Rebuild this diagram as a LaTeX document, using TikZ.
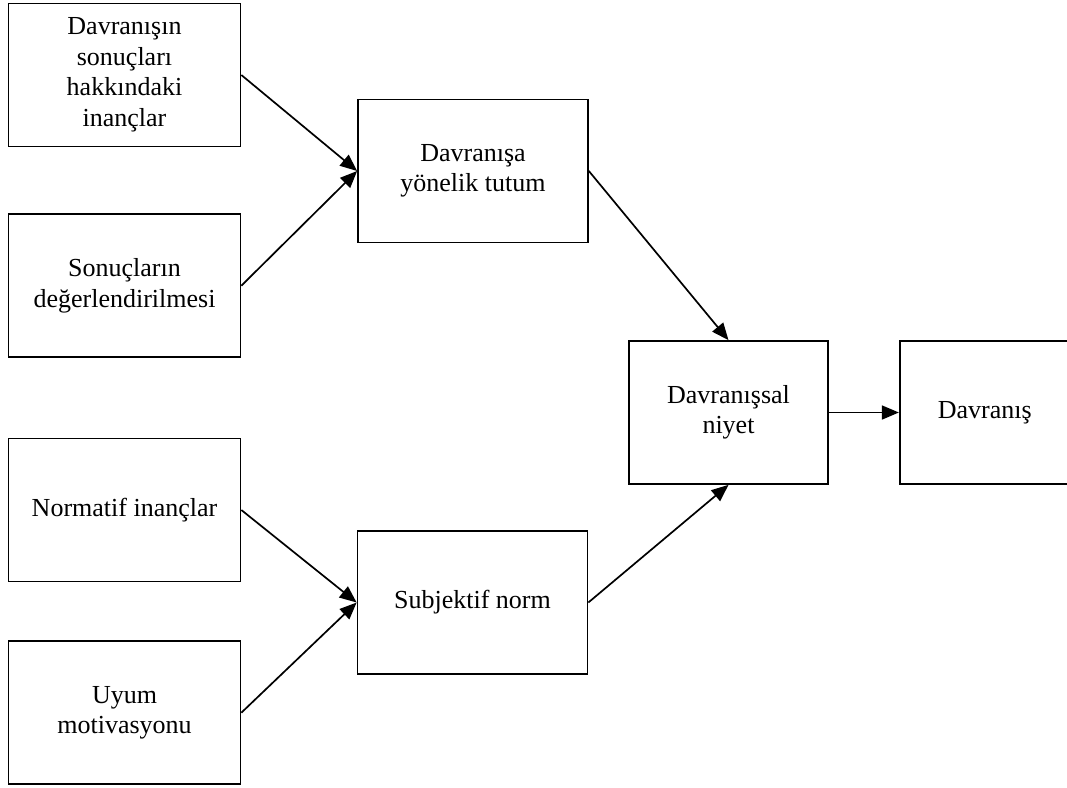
\documentclass[tikz,border=0pt]{standalone}
\usepackage{fontspec}
\setmainfont{Liberation Serif}
\usetikzlibrary{arrows.meta,positioning}

\begin{document}
\begin{tikzpicture}[
  x=1pt, y=-1pt,
  node distance=66pt and 117pt,
  box/.style={draw=black, line width=1.7pt, fill=white, align=center, minimum height=143pt, inner sep=2pt, font=\fontsize{26}{30.5}\selectfont},
  wide/.style={box, minimum width=232pt},
  arr/.style={-{Triangle[length=17pt,width=14pt]}, black, line width=1.7pt}
]
\useasboundingbox (0,0) rectangle (1067,787);

\node[wide] (inan) at (124.5,75) {Davranışın\\sonuçları\\hakkındaki\\inançlar};
\node[wide, below=66pt of inan] (deger) {Sonuçların\\değerlendirilmesi};
\node[wide] (norm) at (124.5,510) {Normatif inançlar};
\node[wide, below=58pt of norm] (uyum) {Uyum\\motivasyonu};

\node[box, minimum width=230pt] (tutum) at (473,171) {Davranışa\\yönelik tutum};
\node[box, minimum width=230pt] (subj) at (472.5,602.5) {Subjektif norm};

\node[box, minimum width=199pt] (niyet) at (728.5,412.5) {Davranışsal\\niyet};
\node[box, minimum width=170pt, right=70pt of niyet] (davr) {Davranış};

\draw[arr] (inan.east)--(tutum.west); \draw[arr] (deger.east)--(tutum.west);
\draw[arr] (norm.east)--(subj.west); \draw[arr] (uyum.east)--(subj.west);
\draw[arr] (tutum.east)--(niyet.north); \draw[arr] (subj.east)--(niyet.south);
\draw[arr] (niyet)--(davr);
\end{tikzpicture}
\end{document}
